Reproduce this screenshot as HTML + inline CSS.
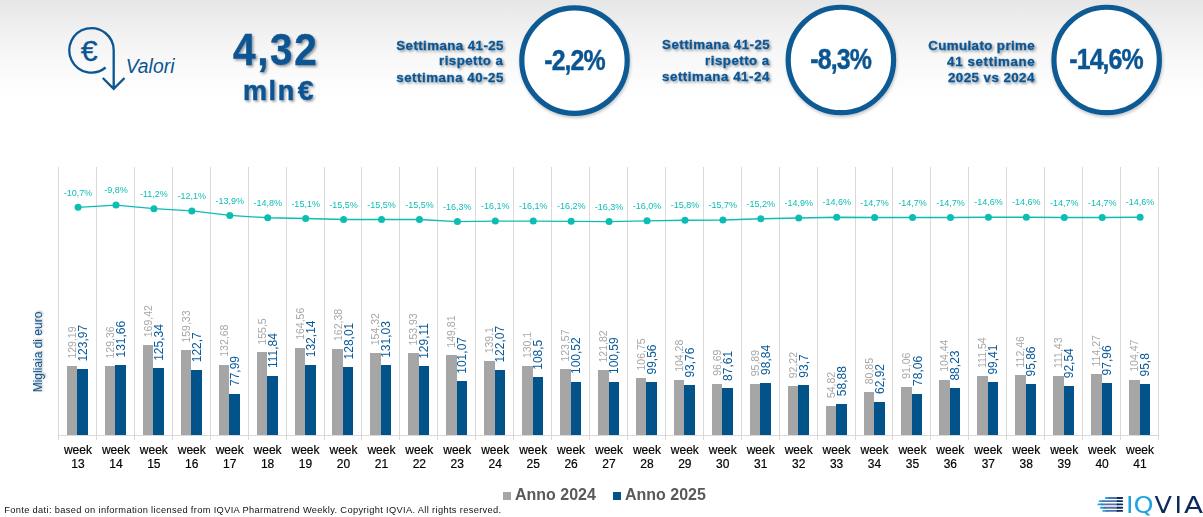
<!DOCTYPE html>
<html><head><meta charset="utf-8">
<style>
html,body{margin:0;padding:0;}
body{width:1203px;height:517px;position:relative;overflow:hidden;background:#fff;font-family:"Liberation Sans",Arial,sans-serif;}
.topbg{position:absolute;left:0;top:0;width:1203px;height:100px;background:linear-gradient(#e6e6e6 0px,#efefef 25px,#f6f6f6 50px,#fbfbfb 75px,#fff 100px);}
.abs{position:absolute;white-space:nowrap;}
.leg{position:absolute;font-weight:bold;font-size:16px;color:#595959;line-height:1;}
.sq{position:absolute;width:8px;height:8px;}
</style></head><body>
<div class="topbg"></div>
<svg class="abs" style="left:0;top:0" width="1203" height="125" viewBox="0 0 1203 125" font-family="Liberation Sans, Arial, sans-serif">
<defs><filter id="ds" x="-10%" y="-10%" width="130%" height="140%"><feDropShadow dx="1.6" dy="1.6" stdDeviation="1" flood-color="#000" flood-opacity="0.38"/></filter>
<filter id="cs" x="-10%" y="-10%" width="130%" height="130%"><feDropShadow dx="0.8" dy="2" stdDeviation="1.8" flood-color="#000" flood-opacity="0.22"/></filter></defs>
<path d="M105.6 67.5 A22.2 22.2 0 1 1 113.7 50.4 L113.7 88.5 M102.8 78 L113.7 88.8 L124.5 78" fill="none" stroke="#0a5592" stroke-width="2.3"/>
<text transform="translate(80.76,60.60) scale(1.06,1)" font-size="28.6" fill="#0a5592" style="letter-spacing:0.000px" stroke="#0a5592" stroke-width="0.3">€</text>
<text transform="translate(125.63,72.60)" font-size="19.3" font-style="italic" fill="#0a5592" style="letter-spacing:0.058px" >Valori</text>
<g filter="url(#ds)"><text transform="translate(396.32,49.60)" font-size="13.3" font-weight="bold" fill="#0a5592" style="letter-spacing:0.420px" stroke="#0a5592" stroke-width="0.3">Settimana 41-25</text><text transform="translate(439.02,65.30)" font-size="13.3" font-weight="bold" fill="#0a5592" style="letter-spacing:0.459px" stroke="#0a5592" stroke-width="0.3">rispetto a</text><text transform="translate(396.23,81.50)" font-size="13.3" font-weight="bold" fill="#0a5592" style="letter-spacing:0.531px" stroke="#0a5592" stroke-width="0.3">settimana 40-25</text><text transform="translate(662.12,49.10)" font-size="13.3" font-weight="bold" fill="#0a5592" style="letter-spacing:0.448px" stroke="#0a5592" stroke-width="0.3">Settimana 41-25</text><text transform="translate(705.12,65.10)" font-size="13.3" font-weight="bold" fill="#0a5592" style="letter-spacing:0.470px" stroke="#0a5592" stroke-width="0.3">rispetto a</text><text transform="translate(662.03,81.20)" font-size="13.3" font-weight="bold" fill="#0a5592" style="letter-spacing:0.538px" stroke="#0a5592" stroke-width="0.3">settimana 41-24</text><text transform="translate(928.15,49.60)" font-size="13.3" font-weight="bold" fill="#0a5592" style="letter-spacing:0.413px" stroke="#0a5592" stroke-width="0.3">Cumulato prime</text><text transform="translate(947.10,65.90)" font-size="13.3" font-weight="bold" fill="#0a5592" style="letter-spacing:0.643px" stroke="#0a5592" stroke-width="0.3">41 settimane</text><text transform="translate(947.94,81.60)" font-size="13.3" font-weight="bold" fill="#0a5592" style="letter-spacing:0.461px" stroke="#0a5592" stroke-width="0.3">2025 vs 2024</text><text transform="translate(233.09,64.80) scale(0.91,1)" font-size="44.5" font-weight="bold" fill="#0a5592" style="letter-spacing:1.765px" stroke="#0a5592" stroke-width="0.45">4,32</text><text transform="translate(242.92,99.90)" font-size="27" font-weight="bold" fill="#0a5592" style="letter-spacing:1.626px" stroke="#0a5592" stroke-width="0.45">mln</text><text transform="translate(297.66,99.90)" font-size="28.5" font-weight="bold" fill="#0a5592" style="letter-spacing:0.000px" stroke="#0a5592" stroke-width="0.45">€</text></g>
<g filter="url(#cs)"><circle cx="574.5" cy="60.6" r="52.7" fill="#fff" stroke="#0b5a94" stroke-width="5.2"/><circle cx="840.9" cy="59.95" r="52.7" fill="#fff" stroke="#0b5a94" stroke-width="5.2"/><circle cx="1106.65" cy="59.95" r="52.7" fill="#fff" stroke="#0b5a94" stroke-width="5.2"/></g>
<text transform="translate(544.33,69.60) scale(0.86,1)" font-size="29" font-weight="bold" fill="#0a5592" style="letter-spacing:-1.110px" stroke="#0a5592" stroke-width="0.45">-2,2%</text><text transform="translate(810.23,68.90) scale(0.86,1)" font-size="29" font-weight="bold" fill="#0a5592" style="letter-spacing:-1.023px" stroke="#0a5592" stroke-width="0.45">-8,3%</text><text transform="translate(1069.33,68.90) scale(0.86,1)" font-size="29" font-weight="bold" fill="#0a5592" style="letter-spacing:-1.067px" stroke="#0a5592" stroke-width="0.45">-14,6%</text>
</svg>
<svg class="abs" style="left:0;top:0" width="1203" height="517" viewBox="0 0 1203 517" font-family="Liberation Sans, Arial, sans-serif">
<defs><filter id="ds2" x="-50%" y="-10%" width="200%" height="120%"><feDropShadow dx="1.5" dy="1.5" stdDeviation="1" flood-color="#000" flood-opacity="0.35"/></filter></defs>
<g stroke="#d9d9d9" stroke-width="1"><line x1="58.5" y1="167" x2="58.5" y2="440" /><line x1="96.5" y1="167" x2="96.5" y2="440" /><line x1="134.5" y1="167" x2="134.5" y2="440" /><line x1="172.5" y1="167" x2="172.5" y2="440" /><line x1="210.5" y1="167" x2="210.5" y2="440" /><line x1="248.5" y1="167" x2="248.5" y2="440" /><line x1="286.5" y1="167" x2="286.5" y2="440" /><line x1="324.5" y1="167" x2="324.5" y2="440" /><line x1="361.5" y1="167" x2="361.5" y2="440" /><line x1="399.5" y1="167" x2="399.5" y2="440" /><line x1="437.5" y1="167" x2="437.5" y2="440" /><line x1="475.5" y1="167" x2="475.5" y2="440" /><line x1="513.5" y1="167" x2="513.5" y2="440" /><line x1="551.5" y1="167" x2="551.5" y2="440" /><line x1="589.5" y1="167" x2="589.5" y2="440" /><line x1="627.5" y1="167" x2="627.5" y2="440" /><line x1="665.5" y1="167" x2="665.5" y2="440" /><line x1="703.5" y1="167" x2="703.5" y2="440" /><line x1="741.5" y1="167" x2="741.5" y2="440" /><line x1="779.5" y1="167" x2="779.5" y2="440" /><line x1="817.5" y1="167" x2="817.5" y2="440" /><line x1="855.5" y1="167" x2="855.5" y2="440" /><line x1="892.5" y1="167" x2="892.5" y2="440" /><line x1="930.5" y1="167" x2="930.5" y2="440" /><line x1="968.5" y1="167" x2="968.5" y2="440" /><line x1="1006.5" y1="167" x2="1006.5" y2="440" /><line x1="1044.5" y1="167" x2="1044.5" y2="440" /><line x1="1082.5" y1="167" x2="1082.5" y2="440" /><line x1="1120.5" y1="167" x2="1120.5" y2="440" /><line x1="1158.5" y1="167" x2="1158.5" y2="440" /></g>
<line x1="58" y1="435.5" x2="1159" y2="435.5" stroke="#d9d9d9" stroke-width="1"/>
<g shape-rendering="crispEdges"><rect x="66.97" y="366.40" width="10.5" height="68.60" fill="#a6a6a6"/><rect x="77.47" y="369.17" width="10.5" height="65.83" fill="#02538a"/><rect x="104.90" y="366.31" width="10.5" height="68.69" fill="#a6a6a6"/><rect x="115.40" y="365.09" width="10.5" height="69.91" fill="#02538a"/><rect x="142.83" y="345.04" width="10.5" height="89.96" fill="#a6a6a6"/><rect x="153.33" y="368.44" width="10.5" height="66.56" fill="#02538a"/><rect x="180.76" y="350.40" width="10.5" height="84.60" fill="#a6a6a6"/><rect x="191.26" y="369.85" width="10.5" height="65.15" fill="#02538a"/><rect x="218.69" y="364.55" width="10.5" height="70.45" fill="#a6a6a6"/><rect x="229.19" y="393.59" width="10.5" height="41.41" fill="#02538a"/><rect x="256.62" y="352.43" width="10.5" height="82.57" fill="#a6a6a6"/><rect x="267.12" y="375.61" width="10.5" height="59.39" fill="#02538a"/><rect x="294.55" y="347.62" width="10.5" height="87.38" fill="#a6a6a6"/><rect x="305.05" y="364.83" width="10.5" height="70.17" fill="#02538a"/><rect x="332.48" y="348.78" width="10.5" height="86.22" fill="#a6a6a6"/><rect x="342.98" y="367.03" width="10.5" height="67.97" fill="#02538a"/><rect x="370.41" y="353.06" width="10.5" height="81.94" fill="#a6a6a6"/><rect x="380.91" y="365.42" width="10.5" height="69.58" fill="#02538a"/><rect x="408.34" y="353.26" width="10.5" height="81.74" fill="#a6a6a6"/><rect x="418.84" y="366.44" width="10.5" height="68.56" fill="#02538a"/><rect x="446.28" y="355.45" width="10.5" height="79.55" fill="#a6a6a6"/><rect x="456.78" y="381.33" width="10.5" height="53.67" fill="#02538a"/><rect x="484.21" y="361.14" width="10.5" height="73.86" fill="#a6a6a6"/><rect x="494.71" y="370.18" width="10.5" height="64.82" fill="#02538a"/><rect x="522.14" y="365.92" width="10.5" height="69.08" fill="#a6a6a6"/><rect x="532.64" y="377.39" width="10.5" height="57.61" fill="#02538a"/><rect x="560.07" y="369.38" width="10.5" height="65.62" fill="#a6a6a6"/><rect x="570.57" y="381.62" width="10.5" height="53.38" fill="#02538a"/><rect x="598.00" y="370.31" width="10.5" height="64.69" fill="#a6a6a6"/><rect x="608.50" y="381.59" width="10.5" height="53.41" fill="#02538a"/><rect x="635.93" y="378.32" width="10.5" height="56.68" fill="#a6a6a6"/><rect x="646.43" y="382.13" width="10.5" height="52.87" fill="#02538a"/><rect x="673.86" y="379.63" width="10.5" height="55.37" fill="#a6a6a6"/><rect x="684.36" y="385.21" width="10.5" height="49.79" fill="#02538a"/><rect x="711.79" y="383.66" width="10.5" height="51.34" fill="#a6a6a6"/><rect x="722.29" y="388.48" width="10.5" height="46.52" fill="#02538a"/><rect x="749.72" y="384.08" width="10.5" height="50.92" fill="#a6a6a6"/><rect x="760.22" y="382.52" width="10.5" height="52.48" fill="#02538a"/><rect x="787.66" y="386.03" width="10.5" height="48.97" fill="#a6a6a6"/><rect x="798.16" y="385.25" width="10.5" height="49.75" fill="#02538a"/><rect x="825.59" y="405.89" width="10.5" height="29.11" fill="#a6a6a6"/><rect x="836.09" y="403.73" width="10.5" height="31.27" fill="#02538a"/><rect x="863.52" y="392.07" width="10.5" height="42.93" fill="#a6a6a6"/><rect x="874.02" y="401.59" width="10.5" height="33.41" fill="#02538a"/><rect x="901.45" y="386.65" width="10.5" height="48.35" fill="#a6a6a6"/><rect x="911.95" y="393.55" width="10.5" height="41.45" fill="#02538a"/><rect x="939.38" y="379.54" width="10.5" height="55.46" fill="#a6a6a6"/><rect x="949.88" y="388.15" width="10.5" height="46.85" fill="#02538a"/><rect x="977.31" y="375.77" width="10.5" height="59.23" fill="#a6a6a6"/><rect x="987.81" y="382.21" width="10.5" height="52.79" fill="#02538a"/><rect x="1015.24" y="375.28" width="10.5" height="59.72" fill="#a6a6a6"/><rect x="1025.74" y="384.10" width="10.5" height="50.90" fill="#02538a"/><rect x="1053.17" y="375.83" width="10.5" height="59.17" fill="#a6a6a6"/><rect x="1063.67" y="385.86" width="10.5" height="49.14" fill="#02538a"/><rect x="1091.10" y="374.32" width="10.5" height="60.68" fill="#a6a6a6"/><rect x="1101.60" y="382.98" width="10.5" height="52.02" fill="#02538a"/><rect x="1129.03" y="379.53" width="10.5" height="55.47" fill="#a6a6a6"/><rect x="1139.53" y="384.13" width="10.5" height="50.87" fill="#02538a"/></g>
<g><text transform="translate(76.00,358.60) rotate(-90)" font-size="10.5" fill="#a6a6a6">129,19</text><text transform="translate(87.04,361.57) rotate(-90)" font-size="12" fill="#0a5a9a">123,97</text><text transform="translate(113.93,358.51) rotate(-90)" font-size="10.5" fill="#a6a6a6">129,36</text><text transform="translate(124.97,357.49) rotate(-90)" font-size="12" fill="#0a5a9a">131,66</text><text transform="translate(151.86,337.24) rotate(-90)" font-size="10.5" fill="#a6a6a6">169,42</text><text transform="translate(162.90,360.84) rotate(-90)" font-size="12" fill="#0a5a9a">125,34</text><text transform="translate(189.79,342.60) rotate(-90)" font-size="10.5" fill="#a6a6a6">159,33</text><text transform="translate(200.83,362.25) rotate(-90)" font-size="12" fill="#0a5a9a">122,7</text><text transform="translate(227.72,356.75) rotate(-90)" font-size="10.5" fill="#a6a6a6">132,68</text><text transform="translate(238.76,385.99) rotate(-90)" font-size="12" fill="#0a5a9a">77,99</text><text transform="translate(265.65,344.63) rotate(-90)" font-size="10.5" fill="#a6a6a6">155,5</text><text transform="translate(276.69,368.01) rotate(-90)" font-size="12" fill="#0a5a9a">111,84</text><text transform="translate(303.58,339.82) rotate(-90)" font-size="10.5" fill="#a6a6a6">164,56</text><text transform="translate(314.62,357.23) rotate(-90)" font-size="12" fill="#0a5a9a">132,14</text><text transform="translate(341.51,340.98) rotate(-90)" font-size="10.5" fill="#a6a6a6">162,38</text><text transform="translate(352.55,359.43) rotate(-90)" font-size="12" fill="#0a5a9a">128,01</text><text transform="translate(379.44,345.26) rotate(-90)" font-size="10.5" fill="#a6a6a6">154,32</text><text transform="translate(390.48,357.82) rotate(-90)" font-size="12" fill="#0a5a9a">131,03</text><text transform="translate(417.37,345.46) rotate(-90)" font-size="10.5" fill="#a6a6a6">153,93</text><text transform="translate(428.41,358.84) rotate(-90)" font-size="12" fill="#0a5a9a">129,11</text><text transform="translate(455.31,347.65) rotate(-90)" font-size="10.5" fill="#a6a6a6">149,81</text><text transform="translate(466.35,373.73) rotate(-90)" font-size="12" fill="#0a5a9a">101,07</text><text transform="translate(493.24,353.34) rotate(-90)" font-size="10.5" fill="#a6a6a6">139,1</text><text transform="translate(504.28,362.58) rotate(-90)" font-size="12" fill="#0a5a9a">122,07</text><text transform="translate(531.17,358.12) rotate(-90)" font-size="10.5" fill="#a6a6a6">130,1</text><text transform="translate(542.21,369.79) rotate(-90)" font-size="12" fill="#0a5a9a">108,5</text><text transform="translate(569.10,361.58) rotate(-90)" font-size="10.5" fill="#a6a6a6">123,57</text><text transform="translate(580.14,374.02) rotate(-90)" font-size="12" fill="#0a5a9a">100,52</text><text transform="translate(607.03,362.51) rotate(-90)" font-size="10.5" fill="#a6a6a6">121,82</text><text transform="translate(618.07,373.99) rotate(-90)" font-size="12" fill="#0a5a9a">100,59</text><text transform="translate(644.96,370.52) rotate(-90)" font-size="10.5" fill="#a6a6a6">106,75</text><text transform="translate(656.00,374.53) rotate(-90)" font-size="12" fill="#0a5a9a">99,56</text><text transform="translate(682.89,371.83) rotate(-90)" font-size="10.5" fill="#a6a6a6">104,28</text><text transform="translate(693.93,377.61) rotate(-90)" font-size="12" fill="#0a5a9a">93,76</text><text transform="translate(720.82,375.86) rotate(-90)" font-size="10.5" fill="#a6a6a6">96,69</text><text transform="translate(731.86,380.88) rotate(-90)" font-size="12" fill="#0a5a9a">87,61</text><text transform="translate(758.75,376.28) rotate(-90)" font-size="10.5" fill="#a6a6a6">95,89</text><text transform="translate(769.79,374.92) rotate(-90)" font-size="12" fill="#0a5a9a">98,84</text><text transform="translate(796.69,378.23) rotate(-90)" font-size="10.5" fill="#a6a6a6">92,22</text><text transform="translate(807.73,377.65) rotate(-90)" font-size="12" fill="#0a5a9a">93,7</text><text transform="translate(834.62,398.09) rotate(-90)" font-size="10.5" fill="#a6a6a6">54,82</text><text transform="translate(845.66,396.13) rotate(-90)" font-size="12" fill="#0a5a9a">58,88</text><text transform="translate(872.55,384.27) rotate(-90)" font-size="10.5" fill="#a6a6a6">80,85</text><text transform="translate(883.59,393.99) rotate(-90)" font-size="12" fill="#0a5a9a">62,92</text><text transform="translate(910.48,378.85) rotate(-90)" font-size="10.5" fill="#a6a6a6">91,06</text><text transform="translate(921.52,385.95) rotate(-90)" font-size="12" fill="#0a5a9a">78,06</text><text transform="translate(948.41,371.74) rotate(-90)" font-size="10.5" fill="#a6a6a6">104,44</text><text transform="translate(959.45,380.55) rotate(-90)" font-size="12" fill="#0a5a9a">88,23</text><text transform="translate(986.34,367.97) rotate(-90)" font-size="10.5" fill="#a6a6a6">111,54</text><text transform="translate(997.38,374.61) rotate(-90)" font-size="12" fill="#0a5a9a">99,41</text><text transform="translate(1024.27,367.48) rotate(-90)" font-size="10.5" fill="#a6a6a6">112,46</text><text transform="translate(1035.31,376.50) rotate(-90)" font-size="12" fill="#0a5a9a">95,86</text><text transform="translate(1062.20,368.03) rotate(-90)" font-size="10.5" fill="#a6a6a6">111,43</text><text transform="translate(1073.24,378.26) rotate(-90)" font-size="12" fill="#0a5a9a">92,54</text><text transform="translate(1100.13,366.52) rotate(-90)" font-size="10.5" fill="#a6a6a6">114,27</text><text transform="translate(1111.17,375.38) rotate(-90)" font-size="12" fill="#0a5a9a">97,96</text><text transform="translate(1138.06,371.73) rotate(-90)" font-size="10.5" fill="#a6a6a6">104,47</text><text transform="translate(1149.10,376.53) rotate(-90)" font-size="12" fill="#0a5a9a">95,8</text></g>
<polyline fill="none" stroke="#0cbdb3" stroke-width="1.3" points="78.07,207.37 116.00,205.09 153.93,208.64 191.86,210.91 229.79,215.47 267.72,217.74 305.65,218.50 343.58,219.52 381.51,219.52 419.44,219.52 457.38,221.54 495.31,221.03 533.24,221.03 571.17,221.29 609.10,221.54 647.03,220.78 684.96,220.27 722.89,220.02 760.82,218.76 798.76,218.00 836.69,217.24 874.62,217.49 912.55,217.49 950.48,217.49 988.41,217.24 1026.34,217.24 1064.27,217.49 1102.20,217.49 1140.13,217.24"/>
<g fill="#0cbdb3"><circle cx="78.07" cy="207.37" r="3.5"/><circle cx="116.00" cy="205.09" r="3.5"/><circle cx="153.93" cy="208.64" r="3.5"/><circle cx="191.86" cy="210.91" r="3.5"/><circle cx="229.79" cy="215.47" r="3.5"/><circle cx="267.72" cy="217.74" r="3.5"/><circle cx="305.65" cy="218.50" r="3.5"/><circle cx="343.58" cy="219.52" r="3.5"/><circle cx="381.51" cy="219.52" r="3.5"/><circle cx="419.44" cy="219.52" r="3.5"/><circle cx="457.38" cy="221.54" r="3.5"/><circle cx="495.31" cy="221.03" r="3.5"/><circle cx="533.24" cy="221.03" r="3.5"/><circle cx="571.17" cy="221.29" r="3.5"/><circle cx="609.10" cy="221.54" r="3.5"/><circle cx="647.03" cy="220.78" r="3.5"/><circle cx="684.96" cy="220.27" r="3.5"/><circle cx="722.89" cy="220.02" r="3.5"/><circle cx="760.82" cy="218.76" r="3.5"/><circle cx="798.76" cy="218.00" r="3.5"/><circle cx="836.69" cy="217.24" r="3.5"/><circle cx="874.62" cy="217.49" r="3.5"/><circle cx="912.55" cy="217.49" r="3.5"/><circle cx="950.48" cy="217.49" r="3.5"/><circle cx="988.41" cy="217.24" r="3.5"/><circle cx="1026.34" cy="217.24" r="3.5"/><circle cx="1064.27" cy="217.49" r="3.5"/><circle cx="1102.20" cy="217.49" r="3.5"/><circle cx="1140.13" cy="217.24" r="3.5"/></g>
<g font-size="9" fill="#0cbdb3" text-anchor="middle"><text x="78.07" y="195.57">-10,7%</text><text x="116.00" y="193.29">-9,8%</text><text x="153.93" y="196.84">-11,2%</text><text x="191.86" y="199.11">-12,1%</text><text x="229.79" y="203.67">-13,9%</text><text x="267.72" y="205.94">-14,8%</text><text x="305.65" y="206.70">-15,1%</text><text x="343.58" y="207.72">-15,5%</text><text x="381.51" y="207.72">-15,5%</text><text x="419.44" y="207.72">-15,5%</text><text x="457.38" y="209.74">-16,3%</text><text x="495.31" y="209.23">-16,1%</text><text x="533.24" y="209.23">-16,1%</text><text x="571.17" y="209.49">-16,2%</text><text x="609.10" y="209.74">-16,3%</text><text x="647.03" y="208.98">-16,0%</text><text x="684.96" y="208.47">-15,8%</text><text x="722.89" y="208.22">-15,7%</text><text x="760.82" y="206.96">-15,2%</text><text x="798.76" y="206.20">-14,9%</text><text x="836.69" y="205.44">-14,6%</text><text x="874.62" y="205.69">-14,7%</text><text x="912.55" y="205.69">-14,7%</text><text x="950.48" y="205.69">-14,7%</text><text x="988.41" y="205.44">-14,6%</text><text x="1026.34" y="205.44">-14,6%</text><text x="1064.27" y="205.69">-14,7%</text><text x="1102.20" y="205.69">-14,7%</text><text x="1140.13" y="205.44">-14,6%</text></g>
<g font-size="12" fill="#000" stroke="#000" stroke-width="0.2" text-anchor="middle"><text x="77.97" y="453.8">week</text><text x="77.97" y="467.8">13</text><text x="115.90" y="453.8">week</text><text x="115.90" y="467.8">14</text><text x="153.83" y="453.8">week</text><text x="153.83" y="467.8">15</text><text x="191.76" y="453.8">week</text><text x="191.76" y="467.8">16</text><text x="229.69" y="453.8">week</text><text x="229.69" y="467.8">17</text><text x="267.62" y="453.8">week</text><text x="267.62" y="467.8">18</text><text x="305.55" y="453.8">week</text><text x="305.55" y="467.8">19</text><text x="343.48" y="453.8">week</text><text x="343.48" y="467.8">20</text><text x="381.41" y="453.8">week</text><text x="381.41" y="467.8">21</text><text x="419.34" y="453.8">week</text><text x="419.34" y="467.8">22</text><text x="457.28" y="453.8">week</text><text x="457.28" y="467.8">23</text><text x="495.21" y="453.8">week</text><text x="495.21" y="467.8">24</text><text x="533.14" y="453.8">week</text><text x="533.14" y="467.8">25</text><text x="571.07" y="453.8">week</text><text x="571.07" y="467.8">26</text><text x="609.00" y="453.8">week</text><text x="609.00" y="467.8">27</text><text x="646.93" y="453.8">week</text><text x="646.93" y="467.8">28</text><text x="684.86" y="453.8">week</text><text x="684.86" y="467.8">29</text><text x="722.79" y="453.8">week</text><text x="722.79" y="467.8">30</text><text x="760.72" y="453.8">week</text><text x="760.72" y="467.8">31</text><text x="798.66" y="453.8">week</text><text x="798.66" y="467.8">32</text><text x="836.59" y="453.8">week</text><text x="836.59" y="467.8">33</text><text x="874.52" y="453.8">week</text><text x="874.52" y="467.8">34</text><text x="912.45" y="453.8">week</text><text x="912.45" y="467.8">35</text><text x="950.38" y="453.8">week</text><text x="950.38" y="467.8">36</text><text x="988.31" y="453.8">week</text><text x="988.31" y="467.8">37</text><text x="1026.24" y="453.8">week</text><text x="1026.24" y="467.8">38</text><text x="1064.17" y="453.8">week</text><text x="1064.17" y="467.8">39</text><text x="1102.10" y="453.8">week</text><text x="1102.10" y="467.8">40</text><text x="1140.03" y="453.8">week</text><text x="1140.03" y="467.8">41</text></g>
</svg>
<div class="abs" style="left:-6px;top:345px;width:88px;text-align:center;font-size:12px;line-height:14px;color:#0a5592;transform:rotate(-90deg);text-shadow:1px 1px 2px rgba(0,0,0,0.35);">Migliaia di euro</div>
<div class="sq" style="left:503px;top:492px;background:#a6a6a6;"></div>
<div class="leg" style="left:515px;top:486.5px;">Anno 2024</div>
<div class="sq" style="left:613px;top:492px;background:#02538a;"></div>
<div class="leg" style="left:625px;top:486.5px;">Anno 2025</div>
<svg class="abs" style="left:0;top:495px" width="520" height="22" viewBox="0 495 520 22"><text x="4.2" y="512.6" font-family="Liberation Sans, Arial, sans-serif" font-size="9.3" fill="#111" textLength="497" lengthAdjust="spacing">Fonte dati: based on information licensed from IQVIA Pharmatrend Weekly. Copyright IQVIA. All rights reserved.</text></svg>
<svg class="abs" style="left:1090px;top:490px" width="113" height="27" viewBox="1090 490 113 27">
<g stroke-width="1.9" stroke-linecap="round"><line x1="1105.8" y1="498.0" x2="1109.1" y2="498.0" stroke="#1ea9e6"/><line x1="1109.1" y1="498.0" x2="1117.6" y2="498.0" stroke="#4f73a8"/><line x1="1117.6" y1="498.0" x2="1122.2" y2="498.0" stroke="#0d2a5e"/><line x1="1099.6" y1="501.1" x2="1102.9" y2="501.1" stroke="#1ea9e6"/><line x1="1102.9" y1="501.1" x2="1117.6" y2="501.1" stroke="#4f73a8"/><line x1="1117.6" y1="501.1" x2="1122.2" y2="501.1" stroke="#0d2a5e"/><line x1="1098.3" y1="504.4" x2="1101.6" y2="504.4" stroke="#1ea9e6"/><line x1="1101.6" y1="504.4" x2="1117.6" y2="504.4" stroke="#4f73a8"/><line x1="1117.6" y1="504.4" x2="1122.2" y2="504.4" stroke="#0d2a5e"/><line x1="1100.9" y1="507.7" x2="1104.2" y2="507.7" stroke="#1ea9e6"/><line x1="1104.2" y1="507.7" x2="1117.6" y2="507.7" stroke="#4f73a8"/><line x1="1117.6" y1="507.7" x2="1122.2" y2="507.7" stroke="#0d2a5e"/><line x1="1103.2" y1="510.9" x2="1106.5" y2="510.9" stroke="#1ea9e6"/><line x1="1106.5" y1="510.9" x2="1117.6" y2="510.9" stroke="#4f73a8"/><line x1="1117.6" y1="510.9" x2="1122.2" y2="510.9" stroke="#0d2a5e"/></g><text transform="translate(0,512.8) scale(1.12,1)" font-family="DejaVu Sans, sans-serif" font-size="22.8"><tspan x="1005.27" fill="#1ea3e0">I</tspan><tspan x="1011.96" fill="#1ea3e0">Q</tspan><tspan x="1030.89" fill="#0d2a5e">V</tspan><tspan x="1048.75" fill="#0d2a5e">I</tspan></text><text transform="translate(1183.9,512.8) scale(1.22,1)" font-family="DejaVu Sans, sans-serif" font-size="22.8" fill="#0d2a5e">A</text>
</svg>
</body></html>
